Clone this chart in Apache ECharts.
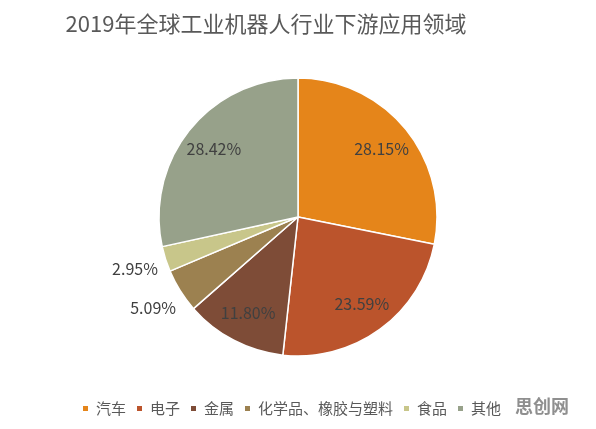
<!DOCTYPE html>
<html>
<head>
<meta charset="utf-8">
<script src="https://cdn.jsdelivr.net/npm/echarts@6/dist/echarts.min.js"></script>
<style>
	html, body { margin: 0; padding: 0; background: #fff; }
	#chart { width: 596px; height: 429px; }
</style>
</head>
<body>
<div id="chart"></div>
<script>
	// 数据
	var categories = ['汽车', '电子', '金属', '化学品、橡胶与塑料', '食品', '其他'];
	var shares = [28.15, 23.59, 11.80, 5.09, 2.95, 28.42];
	var colors = ['#e5851a', '#bb542c', '#7e4c37', '#9c8150', '#c8c68a', '#97a18a'];
	// 小扇区标签放在饼外
	var outsideNames = ['化学品、橡胶与塑料', '食品'];

	var cx = 298, cy = 217, r = 139;
	var font = '"Noto Sans CJK SC", "Noto Sans", sans-serif';

	var pieData = categories.map(function (name, i) {
		return { name: name, value: shares[i], itemStyle: { color: colors[i] } };
	});

	// 只做标签的透明饼
	function labelData(outside) {
		return categories.map(function (name, i) {
			var isOut = outsideNames.indexOf(name) >= 0;
			return {
				name: name,
				value: shares[i],
				label: { show: isOut === outside }
			};
		});
	}
	var labelStyle = {
		position: 'inside',
		color: '#404040',
		fontSize: 16,
		fontFamily: font,
		formatter: function (p) { return p.value.toFixed(2) + '%'; }
	};

	var chart = echarts.init(document.getElementById('chart'));
	chart.setOption({
		animation: false,
		title: {
			text: '2019年全球工业机器人行业下游应用领域',
			left: 261,
			top: 8,
			textAlign: 'center',
			textStyle: { color: '#595959', fontSize: 22, fontWeight: 'normal', fontFamily: font }
		},
		legend: {
			data: categories,
			left: 76,
			top: 396,
			itemWidth: 7,
			itemHeight: 7,
			itemGap: 9,
			icon: 'rect',
			textStyle: { color: '#595959', fontSize: 15, fontFamily: font, padding: [0, 0, 0, 2] }
		},
		graphic: [{
			type: 'text',
			left: 515,
			top: 397,
			style: { text: '思创网', fill: '#8f8f8f', font: 'bold 18px ' + font }
		}],
		series: [{
			type: 'pie',
			center: [cx, cy],
			radius: [0, r],
			startAngle: 90,
			clockwise: true,
			label: { show: false },
			labelLine: { show: false },
			itemStyle: { borderColor: '#fff', borderWidth: 1.5 },
			emphasis: { disabled: true },
			data: pieData
		}, {
			type: 'pie',
			center: [cx, cy],
			radius: [70, 140],
			silent: true,
			label: labelStyle,
			labelLine: { show: false },
			itemStyle: { color: 'rgba(0,0,0,0)' },
			data: labelData(false)
		}, {
			type: 'pie',
			center: [cx, cy],
			radius: [141, 195],
			silent: true,
			label: labelStyle,
			labelLine: { show: false },
			itemStyle: { color: 'rgba(0,0,0,0)' },
			data: labelData(true)
		}]
	});
</script>
</body>
</html>
